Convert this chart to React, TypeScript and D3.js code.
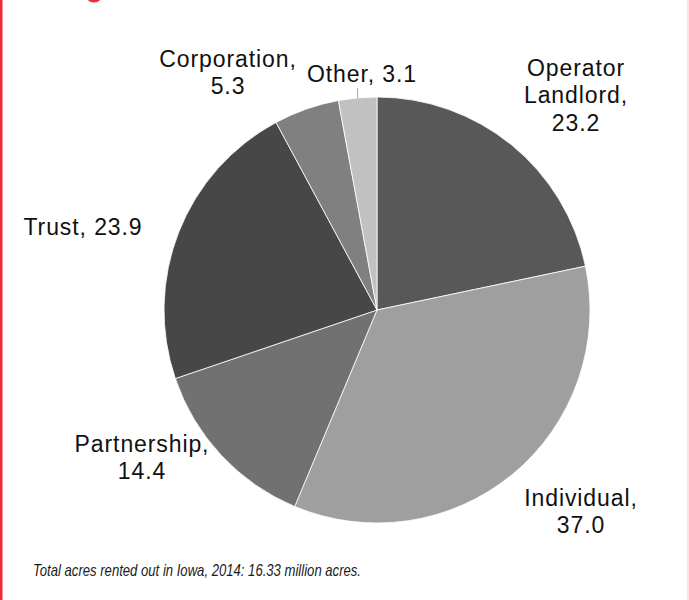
import * as d3 from 'd3';
import { useEffect, useRef } from 'react';

const WIDTH = 689;
const HEIGHT = 600;
const CENTER = { x: 377, y: 310 };
const RADIUS = 213;

// clockwise from 12 o'clock
const categories = ['Operator Landlord', 'Individual', 'Partnership', 'Trust', 'Corporation', 'Other'];
const values = [23.2, 37.0, 14.4, 23.9, 5.3, 3.1];
const valueLabels = ['23.2', '37.0', '14.4', '23.9', '5.3', '3.1'];
const labelLines = [
    ['Operator', 'Landlord,', '23.2'],
    ['Individual,', '37.0'],
    ['Partnership,', '14.4'],
    ['Trust, 23.9'],
    ['Corporation,', '5.3'],
    ['Other, 3.1'],
];
const sliceColors = ['#585858', '#9f9f9f', '#717171', '#474747', '#808080', '#c1c1c1'];

// label block centres, relative to pie centre
const labelOffsets = [[199, -215], [204, 201], [-235, 147], [-294, -83], [-149, -238], [-15, -236]];
const leaderFor = ['Other'];

const FOOTNOTE = 'Total acres rented out in Iowa, 2014: 16.33 million acres.';

const PieChart = () => {
    const svgRef = useRef<SVGSVGElement>(null);

    useEffect(() => {
        const svg = d3.select(svgRef.current);
        svg.selectAll('*').remove();

        // frame
        svg.append('rect').attr('x', 0).attr('y', 0).attr('width', 2.5).attr('height', HEIGHT).attr('fill', '#ee2a3c');
        svg.append('rect').attr('x', 687.5).attr('y', 0).attr('width', 1).attr('height', HEIGHT).attr('fill', '#fbc4cc');
        // bottom of the cropped title, just peeking in
        svg.append('ellipse').attr('cx', 94).attr('cy', -0.5).attr('rx', 6).attr('ry', 3).attr('fill', '#ee2a3c');

        const data = categories.map((c, i) => ({ name: c, value: values[i], label: valueLabels[i] }));
        const pie = d3.pie<any>().value((d) => d.value).sort(null);
        const arcs = pie(data);
        const arc = d3.arc<any>().innerRadius(0).outerRadius(RADIUS);

        const g = svg.append('g').attr('transform', `translate(${CENTER.x},${CENTER.y})`);
        g.selectAll('path.slice')
            .data(arcs)
            .enter()
            .append('path')
            .attr('class', 'slice')
            .attr('d', arc)
            .attr('fill', (_, i) => sliceColors[i])
            .attr('stroke', '#ffffff')
            .attr('stroke-width', 0.8);

        const fontSize = 23;
        const lineH = 27.5;
        const capH = fontSize * 0.72;

        arcs.forEach((a, i) => {
            const [dx, dy] = labelOffsets[i];
            const lines = labelLines[i];
            const blockH = capH + (lines.length - 1) * lineH;
            const firstBaseline = dy - blockH / 2 + capH;
            const t = g.append('text')
                .attr('text-anchor', 'middle')
                .attr('font-family', 'Liberation Sans, Arial, sans-serif')
                .attr('font-size', fontSize)
                .attr('letter-spacing', 0.9)
                .attr('fill', '#111111');
            lines.forEach((ln, j) => {
                t.append('tspan').attr('x', dx).attr('y', firstBaseline + j * lineH).text(ln);
            });

            if (leaderFor.includes(a.data.name)) {
                const mid = (a.startAngle + a.endAngle) / 2;
                const px = RADIUS * Math.sin(mid);
                const py = -RADIUS * Math.cos(mid);
                g.append('line')
                    .attr('x1', px).attr('y1', py)
                    .attr('x2', px).attr('y2', dy + blockH / 2 + 6)
                    .attr('stroke', '#a6a6a6').attr('stroke-width', 1);
            }
        });

        svg.append('text')
            .attr('x', 33).attr('y', 575.5)
            .attr('font-family', 'Liberation Sans Narrow, Liberation Sans, Arial, sans-serif')
            .attr('font-style', 'italic')
            .attr('font-size', 17)
            .attr('fill', '#1a1a1a')
            .attr('textLength', 328)
            .attr('lengthAdjust', 'spacingAndGlyphs')
            .text(FOOTNOTE);
    }, []);

    return (
        <svg ref={svgRef} width={WIDTH} height={HEIGHT}
            style={{ position: 'absolute', left: 0, top: 0, background: '#ffffff' }} />
    );
};

export default function App() {
    return <PieChart />;
}
